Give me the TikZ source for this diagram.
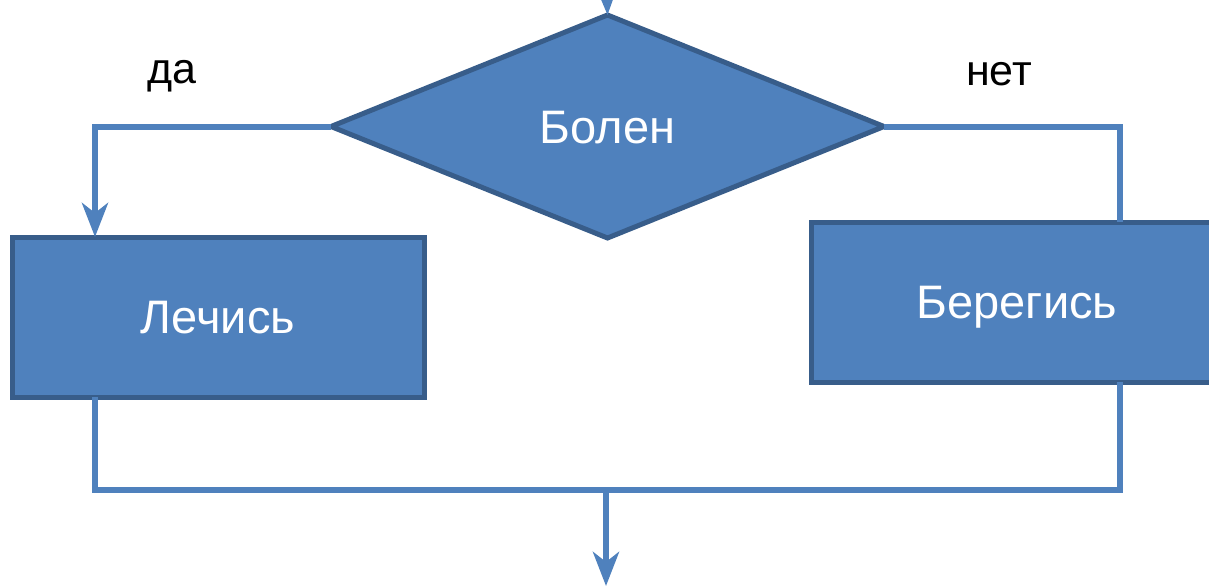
\documentclass[tikz,border=0pt]{standalone}
\usepackage{fontspec}
\setmainfont{Liberation Sans}
\usetikzlibrary{shapes.geometric,arrows.meta}
\definecolor{boxblue}{HTML}{4F81BD}
\definecolor{boxedge}{HTML}{385D8A}
\begin{document}
\begin{tikzpicture}[x=1pt, y=-1pt,
	every node/.style = {font=\fontsize{47}{56}\selectfont, text=white, fill=boxblue, draw=boxedge, line width=5pt, outer sep=0pt, inner sep=0pt, text height=33pt, text depth=0pt},
	decision/.style = {diamond, minimum width=553pt, minimum height=223pt},
	block/.style = {rectangle, minimum width=412pt, minimum height=160pt},
	branch/.style = {fill=none, draw=none, text=black, font=\fontsize{43}{50}\selectfont, text height=21pt},
	conn/.style = {draw=boxblue, line width=6pt},
	connarrow/.style = {conn, -{Stealth[length=34pt, width=26pt, inset=10pt]}}]
	\path[use as bounding box] (0,0) rectangle (1209,586);
	\clip (0,0) rectangle (1209,586);
	\coordinate (lx) at (95,0);
	\coordinate (rx) at (1120,0);
	\coordinate (top) at (606,-40);
	\coordinate (join) at (606,490);
	\coordinate (out) at (606,586);
	\node[decision] (bolen) at (607.5,126.5) {Болен};
	\node[block] (lechis) at (218,317) {Лечись};
	\node[block] (beregis) at (1017,302) {Берегись};
	\node[branch] (da) at (172,73) {да};
	\node[branch] (net) at (999,75) {нет};
	\draw[connarrow] (top) -- (bolen.north);
	\draw[connarrow] (bolen.west) -| (lechis.north -| lx);
	\draw[conn] (bolen.east) -| (beregis.north -| rx);
	\draw[conn] (lechis.south -| lx) |- (join) -| (beregis.south -| rx);
	\draw[connarrow] (join) -- (out);
\end{tikzpicture}
\end{document}
